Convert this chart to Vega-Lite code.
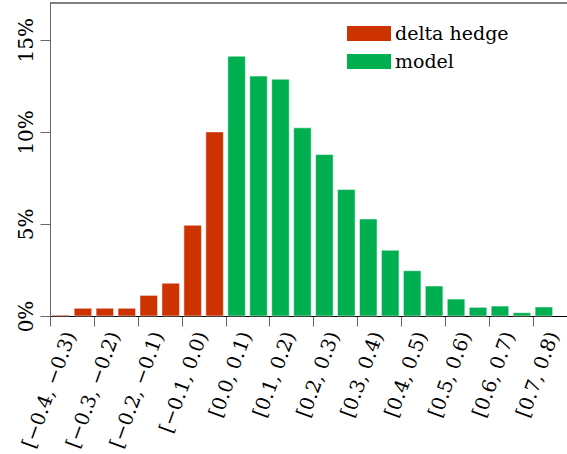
{
  "$schema": "https://vega.github.io/schema/vega-lite/v6.json",
  "width": 517,
  "height": 313,
  "autosize": {"type": "none"},
  "padding": {"left": 50, "top": 3, "right": 0, "bottom": 138},
  "config": {"view": {"stroke": null}, "font": "DejaVu Serif"},
  "data": {
    "values": [
      {"bin_start": -0.4, "bin_end": -0.35, "pct": 0.05, "series": "delta hedge"},
      {"bin_start": -0.35, "bin_end": -0.3, "pct": 0.42, "series": "delta hedge"},
      {"bin_start": -0.3, "bin_end": -0.25, "pct": 0.42, "series": "delta hedge"},
      {"bin_start": -0.25, "bin_end": -0.2, "pct": 0.42, "series": "delta hedge"},
      {"bin_start": -0.2, "bin_end": -0.15, "pct": 1.12, "series": "delta hedge"},
      {"bin_start": -0.15, "bin_end": -0.1, "pct": 1.78, "series": "delta hedge"},
      {"bin_start": -0.1, "bin_end": -0.05, "pct": 4.93, "series": "delta hedge"},
      {"bin_start": -0.05, "bin_end": 0.0, "pct": 10.0, "series": "delta hedge"},
      {"bin_start": 0.0, "bin_end": 0.05, "pct": 14.11, "series": "model"},
      {"bin_start": 0.05, "bin_end": 0.1, "pct": 13.03, "series": "model"},
      {"bin_start": 0.1, "bin_end": 0.15, "pct": 12.86, "series": "model"},
      {"bin_start": 0.15, "bin_end": 0.2, "pct": 10.22, "series": "model"},
      {"bin_start": 0.2, "bin_end": 0.25, "pct": 8.77, "series": "model"},
      {"bin_start": 0.25, "bin_end": 0.3, "pct": 6.87, "series": "model"},
      {"bin_start": 0.3, "bin_end": 0.35, "pct": 5.27, "series": "model"},
      {"bin_start": 0.35, "bin_end": 0.4, "pct": 3.57, "series": "model"},
      {"bin_start": 0.4, "bin_end": 0.45, "pct": 2.46, "series": "model"},
      {"bin_start": 0.45, "bin_end": 0.5, "pct": 1.63, "series": "model"},
      {"bin_start": 0.5, "bin_end": 0.55, "pct": 0.92, "series": "model"},
      {"bin_start": 0.55, "bin_end": 0.6, "pct": 0.47, "series": "model"},
      {"bin_start": 0.6, "bin_end": 0.65, "pct": 0.54, "series": "model"},
      {"bin_start": 0.65, "bin_end": 0.7, "pct": 0.18, "series": "model"},
      {"bin_start": 0.7, "bin_end": 0.75, "pct": 0.49, "series": "model"}
    ]
  },
  "layer": [
    {
      "mark": {"type": "bar", "xOffset": 2.2, "x2Offset": -2.2, "stroke": "white", "strokeOpacity": 0.5, "strokeWidth": 1},
      "encoding": {
        "x": {
          "field": "bin_start", "type": "quantitative",
          "scale": {"domain": [-0.4, 0.7777], "nice": false, "zero": false},
          "axis": {
            "title": null,
            "values": [-0.4, -0.3, -0.2, -0.1, 0.0, 0.1, 0.2, 0.3, 0.4, 0.5, 0.6, 0.7],
            "labelExpr": "'[' + format(datum.value, '.1f') + ', ' + format(datum.value + 0.1, '.1f') + ')'",
            "labelAngle": -70, "labelAlign": "right", "labelBaseline": "middle",
            "labelOffset": 20, "labelPadding": 6, "labelFontSize": 19.5, "labelFont": "DejaVu Serif", "labelColor": "black",
            "labelFlush": false, "labelOverlap": false, "labelBound": false,
            "tickSize": 10, "tickColor": "#666666", "domainColor": "black", "grid": false
          }
        },
        "x2": {"field": "bin_end"},
        "y": {
          "field": "pct", "type": "quantitative",
          "scale": {"domain": [0, 17], "nice": false},
          "axis": {
            "title": null, "values": [0, 5, 10, 15], "labelExpr": "datum.value + '%'",
            "labelAngle": -90, "labelAlign": "center", "labelBaseline": "alphabetic", "labelPadding": 8,
            "labelFontSize": 20, "labelFont": "DejaVu Serif", "labelColor": "black",
            "tickSize": 10, "tickColor": "#666666", "domainColor": "#666666", "grid": false
          }
        },
        "y2": {"datum": 0},
        "color": {
          "field": "series", "type": "nominal",
          "scale": {"domain": ["delta hedge", "model"], "range": ["#CC3300", "#00B050"]},
          "legend": {
            "orient": "none", "legendX": 308, "legendY": 19.5, "title": null, "padding": 0,
            "symbolType": "M-2,-0.68H2V0.68H-2Z", "symbolSize": 484, "symbolStrokeWidth": 0, "symbolOpacity": 1,
            "labelFontSize": 19, "labelFont": "DejaVu Serif", "labelColor": "black", "labelOffset": 15, "rowPadding": 7
          }
        }
      }
    },
    {
      "data": {"values": [{}]},
      "mark": {"type": "rule", "color": "black", "strokeWidth": 1},
      "encoding": {"y": {"datum": 17}}
    }
  ]
}
